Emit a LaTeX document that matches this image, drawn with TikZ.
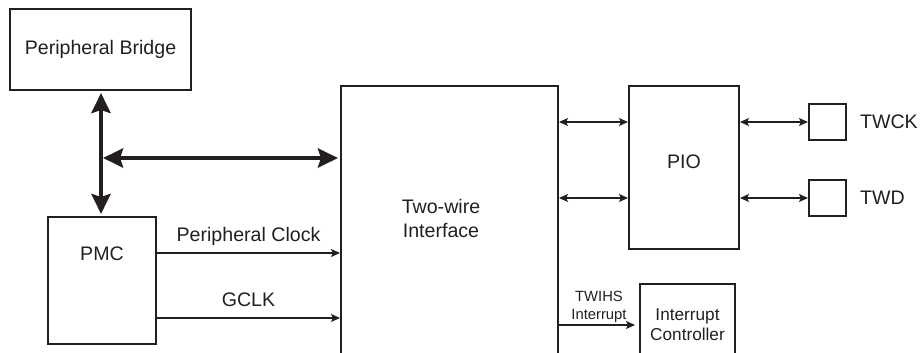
\documentclass[tikz,border=0pt]{standalone}
\usepackage{fontspec}
\setmainfont{Liberation Sans}
\usetikzlibrary{arrows.meta, positioning}
\definecolor{ink}{RGB}{35,31,32}

\begin{document}
\begin{tikzpicture}[
      x=0.5pt, y=-0.5pt,
      font=\fontsize{9.8}{12}\selectfont,
      every node/.style={text=ink},
      block/.style={rectangle, draw=ink, line width=1pt, inner sep=0pt, align=center},
      pad/.style={rectangle, draw=ink, line width=1pt, minimum width=18.5pt, minimum height=18pt, inner sep=0pt},
      bus/.style={{Stealth[length=10pt, width=9.5pt, inset=1.5pt]}-{Stealth[length=10pt, width=9.5pt, inset=1.5pt]}, line width=2.3pt, draw=ink, shorten <=1pt, shorten >=1pt},
      sig/.style={line width=0.6pt, draw=ink},
      >={Stealth[length=4.5pt, width=4pt, inset=1pt]},
      lbl/.style={above, text depth=2pt},
      small/.style={font=\fontsize{7.4}{8.8}\selectfont, align=center, inner sep=1pt}
    ]
    \useasboundingbox (0,0) rectangle (920,353);
    \clip (0,0) rectangle (920,353);

    \node[block, minimum width=90.5pt, minimum height=40.5pt] (bridge) at (100.5,49.5) {Peripheral Bridge};
    \node[block, minimum width=54pt, text height=21.5pt, text depth=42pt] (pmc) at (102,280.5) {PMC};

    \node[block, minimum width=108.5pt, minimum height=167pt] (twi) at (449.5,253) {};
    \node[align=center] (twiname) at (441,218) {Two-wire\\Interface};

    \node[block, minimum width=55pt, text height=41pt, text depth=40.5pt] (pio) at (684,167.5) {PIO};
    \node[pad, label={[label distance=3pt]right:TWCK}] (twck) at (827.5,122) {};
    \node[pad, below=19pt of twck, label={[label distance=3pt]right:TWD}] (twd) {};

    \node[block, minimum width=47.5pt, minimum height=58pt] (intc) at (687.5,342) {};
    \node[align=center, font=\fontsize{8.6}{10}\selectfont] (intcname) at (687.5,325) {Interrupt\\Controller};

    % system bus
    \coordinate (tap) at (101,158);
    \draw[bus] (bridge.south -| tap) -- (pmc.north -| tap);
    \draw[bus] (tap) -- (tap -| twi.west);

    % clocks
    \coordinate (clk) at ([yshift=13.75pt]pmc.east);
    \coordinate (gclk) at ([yshift=-18.75pt]pmc.east);
    \draw[sig, ->] (clk) -- (clk -| twi.west) node[midway, lbl] {Peripheral Clock};
    \draw[sig, ->] (gclk) -- (gclk -| twi.west) node[midway, lbl] {GCLK};

    % I/O lines
    \draw[sig, <->] (twi.east |- twck) -- (pio.west |- twck);
    \draw[sig, <->] (twi.east |- twd) -- (pio.west |- twd);
    \draw[sig, <->] (pio.east |- twck) -- (twck.west);
    \draw[sig, <->] (pio.east |- twd) -- (twd.west);

    % interrupt
    \draw[sig, ->, shorten >=2pt] (twi.east |- intcname) -- (intc.west |- intcname) node[midway, above, small] {TWIHS\\Interrupt};
  \end{tikzpicture}
\end{document}
